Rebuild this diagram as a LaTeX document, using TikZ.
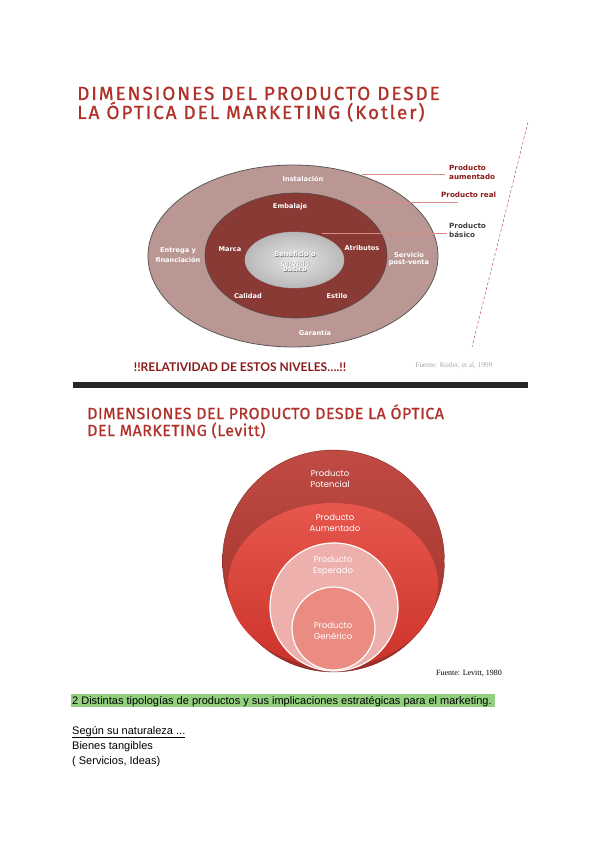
\documentclass[tikz,border=0pt]{standalone}
\usepackage{fontspec}
\setmainfont{Liberation Sans}
\newfontfamily\titlefont[LetterSpace=10, FakeBold=0.9]{Fira Sans}
\newfontfamily\levtitlefont[LetterSpace=3, FakeBold=0.8]{Fira Sans}
\newfontfamily\lblfont{DejaVu Sans}
\newfontfamily\ringfont{Poppins}
\newfontfamily\notefont{Lato}
\newfontfamily\srcfont{Liberation Serif}
\usepackage{tikz}
\usetikzlibrary{calc}

\definecolor{titlered}{HTML}{B0302A}
\definecolor{darkred}{HTML}{8B1A1A}
\definecolor{ringout}{HTML}{BA9793}
\definecolor{ringmid}{HTML}{8A3A35}
\definecolor{leader}{HTML}{D98A84}
\definecolor{levone}{HTML}{B8372F}
\definecolor{levtwo}{HTML}{E2392E}
\definecolor{levthree}{HTML}{EEB0AD}
\definecolor{levfour}{HTML}{EB8C82}
\definecolor{marker}{HTML}{92D07F}

% white text with a faint dark shadow
\newcommand{\shadowed}[1]{\rlap{\hspace{0.5pt}\raisebox{-0.5pt}{\color{black!55}#1}}#1}

\tikzset{
  title/.style={anchor=base west, align=left, inner sep=0pt, text=titlered},
  ring/.style={text=white, font=\lblfont\bfseries\fontsize{6.6}{7.6}\selectfont, inner sep=0pt, align=center},
  side/.style={anchor=north west, inner sep=0pt, align=left, font=\lblfont\bfseries\fontsize{7.2}{8.8}\selectfont},
  leaderline/.style={leader, line width=0.7pt},
  levlabel/.style={text=white, font=\ringfont\fontsize{8.5}{11.5}\selectfont, inner sep=0pt, align=center},
  body/.style={anchor=base west, inner sep=0pt, font=\fontsize{11}{12}\selectfont},
  source/.style={inner sep=0pt, font=\srcfont\fontsize{7.3}{8}\selectfont},
}

\begin{document}
\begin{tikzpicture}[x=1pt, y=-1pt]
\useasboundingbox (0,0) rectangle (600,848);
\fill[white] (0,0) rectangle (600,848);

% KOTLER
\node[title, font=\titlefont\fontsize{19}{19}\selectfont] (ktitle1) at (77,100) {DIMENSIONES DEL PRODUCTO DESDE};
\node[title, font=\titlefont\fontsize{19}{19}\selectfont] (ktitle2) at (77,119) {LA ÓPTICA DEL MARKETING (Kotler)};

% levels
\draw[gray!70!black, fill=ringout, line width=0.8pt] (293,256) ellipse [x radius=145, y radius=91];
\draw[gray!60!black, fill=ringmid, line width=0.6pt] (296,255.5) ellipse [x radius=91, y radius=62.5];
\shade[inner color=gray!20, outer color=gray!55, draw=gray!60] (294.5,260) ellipse [x radius=49.5, y radius=28];

\node[ring] (instal) at (303,179) {Instalación};
\node[ring] (embal) at (290,207) {Embalaje};
\node[ring] (entrega) at (178,255) {Entrega y\\[3pt]financiación};
\node[ring] (marca) at (230,249) {Marca};
\node[ring] (benef) at (295,262) {\shadowed{Beneficio o}\\[2pt]\shadowed{servicio}\\[-2pt]\shadowed{básico}};
\node[ring] (atrib) at (362,248) {Atributos};
\node[ring] (servicio) at (409,259) {Servicio\\post-venta};
\node[ring] (calidad) at (248,296) {Calidad};
\node[ring] (estilo) at (337,296) {Estilo};
\node[ring] (garantia) at (315,333) {Garantía};

\node[side, text=darkred] (aument) at (449,165) {Producto\\aumentado};
\node[side, text=darkred] (real) at (441,192) {Producto real};
\node[side, text=black!75] (basico) at (449,223) {Producto\\básico};

\coordinate (aumA) at (362,174);
\coordinate (aumB) at (445,174);
\coordinate (realA) at (353,202);
\coordinate (realB) at (458,202);
\coordinate (basA) at (322,233);
\coordinate (basB) at (447,233);
\draw[leaderline] (aumA) -- (aumB);
\draw[leaderline] (realA) -- (realB);
\draw[leaderline] (basA) -- (basB);

\coordinate (slashtop) at (528,122);
\coordinate (slashbot) at (472,347);
\draw[titlered!80, densely dashed, line width=0.5pt] (slashtop) -- (slashbot);

\node[inner sep=0pt, text=darkred, font=\notefont\bfseries\fontsize{12}{13}\selectfont] (relat) at (240,367) {!!RELATIVIDAD DE ESTOS NIVELES….!!};
\node[source, text=gray!70] (ksrc) at (454,366) {Fuente: Kotler, et al, 1999};

\fill[black!85] (73,382) rectangle (528,388);

% LEVITT
\node[title, font=\levtitlefont\fontsize{16}{16}\selectfont] (ltitle1) at (87,419) {DIMENSIONES DEL PRODUCTO DESDE LA ÓPTICA};
\node[title, font=\levtitlefont\fontsize{16}{16}\selectfont] (ltitle2) at (87,436) {DEL MARKETING (Levitt)};

\shade[top color=levone!90!white, bottom color=levone!85!black, draw=levone!70!black, line width=0.4pt] (333.5,561) circle [radius=111];
\shade[top color=levtwo!85!white, bottom color=levtwo!90!black] (333,585) ellipse [x radius=105, y radius=82];
\draw[white, line width=1.2pt, fill=levthree] (334,607) circle [radius=64];
\draw[white, line width=1.2pt, fill=levfour] (333.5,628.5) circle [radius=41.5];

\node[levlabel] (potencial) at (330,479) {Producto\\Potencial};
\node[levlabel] (aumentado) at (335,523) {Producto\\Aumentado};
\node[levlabel] (esperado) at (333,566) {Producto\\Esperado};
\node[levlabel] (generico) at (333,631) {Producto\\Genérico};

\node[source, text=black, font=\srcfont\fontsize{8}{9}\selectfont] (lsrc) at (469,673) {Fuente: Levitt, 1980};

% bottom text
\fill[marker] (71,694) rectangle (495,707);
\node[body] (sec) at (72,704) {2 Distintas tipologías de productos y sus implicaciones estratégicas para el marketing.};
\node[body] (segun) at (72,734) {\underline{Según su naturaleza ...}};
\node[body] (bienes) at (72,749) {Bienes tangibles};
\node[body] (servid) at (72,764) {( Servicios, Ideas)};

\end{tikzpicture}
\end{document}
